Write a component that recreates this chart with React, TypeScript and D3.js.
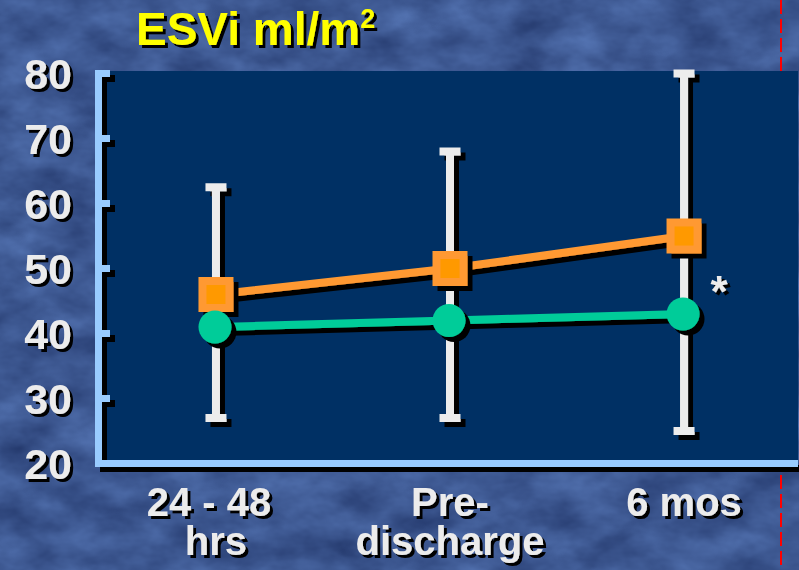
import React from "react";
import * as d3 from "d3";

// Time points and their two-line axis labels
const categories = ["24 - 48 hrs", "Pre-discharge", "6 mos"];
const categoryLines = [["24 - 48", "hrs"], ["Pre-", "discharge"], ["6 mos"]];

// ESVi (ml/m²) per group
const squareSeries = [46, 50, 55];
const circleSeries = [41, 42, 43];

// Error bar extents per time point
const errorHigh = [62.5, 68, 80];
const errorLow = [27, 27, 25];

const yTicks = [20, 30, 40, 50, 60, 70, 80];

const W = 799;
const H = 570;

const PLOT = { left: 102, right: 798, top: 71, bottom: 460 };

const AXIS_BLUE = "#99ccff";
const NAVY = "#003064";
const ORANGE = "#ff9933";
const ORANGE_IN = "#ff9900";
const GREEN = "#00cc99";
const LIGHT = "#ececec";

export default function App() {
  const x = d3
    .scalePoint<string>()
    .domain(categories)
    .range([PLOT.left, PLOT.right])
    .padding(0.487);
  const y = d3.scaleLinear().domain([20, 80]).range([463.5, 73.5]);

  const line = d3
    .line<number>()
    .x((_, i) => x(categories[i]) as number)
    .y((d) => y(d));

  const font = "'Liberation Sans', Arial, Helvetica, sans-serif";
  const capW = 21;
  const stemW = 8;
  const sq = 35;
  const sqIn = 19;
  const r = 16.5;

  return (
    <svg width={W} height={H} style={{ display: "block", position: "absolute", left: 0, top: 0 }}>
      <defs>
        <filter id="marble" x="0" y="0" width={W} height={H} filterUnits="userSpaceOnUse" colorInterpolationFilters="sRGB">
          <feTurbulence type="fractalNoise" baseFrequency="0.018 0.03" numOctaves={4} seed={7} />
          <feColorMatrix
            type="matrix"
            values="0.22 0 0 0 0.13  0.27 0 0 0 0.21  0.32 0 0 0 0.41  0 0 0 0 1"
          />
        </filter>
        <filter id="shadow5" x="0" y="0" width={W} height={H} filterUnits="userSpaceOnUse">
          <feOffset in="SourceAlpha" dx={5} dy={5} result="off" />
          <feMerge>
            <feMergeNode in="off" />
            <feMergeNode in="SourceGraphic" />
          </feMerge>
        </filter>
        <filter id="shadow3" x="0" y="0" width={W} height={H} filterUnits="userSpaceOnUse">
          <feOffset in="SourceAlpha" dx={3} dy={3} result="off" />
          <feMerge>
            <feMergeNode in="off" />
            <feMergeNode in="SourceGraphic" />
          </feMerge>
        </filter>
      </defs>

      {/* textured backdrop */}
      <rect x={0} y={0} width={W} height={H} fill="#3d5a8f" />
      <rect x={0} y={0} width={W} height={H} filter="url(#marble)" />

      {/* red dashed guide */}
      <line x1={781} x2={781} y1={0} y2={H} stroke="#ff0000" strokeWidth={2} strokeDasharray="14 5" />

      {/* plot panel */}
      <rect x={PLOT.left} y={PLOT.top} width={PLOT.right - PLOT.left} height={PLOT.bottom - PLOT.top} fill={NAVY} />

      {/* axes */}
      <g filter="url(#shadow5)" fill={AXIS_BLUE}>
        <rect x={95} y={70} width={7} height={397} />
        <rect x={95} y={460} width={PLOT.right - 95} height={7} />
        {yTicks.slice(1).map((t) => (
          <rect key={t} x={95} y={y(t) - 3.5} width={15} height={7} />
        ))}
      </g>

      {/* title */}
      <text
        x={136}
        y={45}
        fontFamily={font}
        fontWeight="bold"
        fontSize={46}
        fill="#ffff00"
        filter="url(#shadow3)"
      >
        ESVi ml/m
        <tspan fontSize={27} dy={-17}>2</tspan>
      </text>

      {/* y tick labels */}
      <g filter="url(#shadow3)">
        {yTicks.map((t) => (
          <text
            key={t}
            x={72}
            y={y(t) + 15}
            textAnchor="end"
            fontFamily={font}
            fontWeight="bold"
            fontSize={43}
            fill={LIGHT}
          >
            {t}
          </text>
        ))}
      </g>

      {/* x category labels */}
      <g filter="url(#shadow3)">
        {categories.map((c, i) =>
          categoryLines[i].map((ln, j) => (
            <text
              key={c + j}
              x={(x(c) as number) + (i === 0 && j === 0 ? -7 : 0)}
              y={516 + j * 39}
              textAnchor="middle"
              fontFamily={font}
              fontWeight="bold"
              fontSize={40}
              fill={LIGHT}
            >
              {ln}
            </text>
          ))
        )}
      </g>

      {/* error bars */}
      <g filter="url(#shadow5)" fill={LIGHT}>
        {categories.map((c, i) => {
          const cx = x(c) as number;
          const top = y(errorHigh[i]);
          const bot = y(errorLow[i]);
          return (
            <g key={c}>
              <rect x={cx - stemW / 2} y={top} width={stemW} height={bot - top} />
              <rect x={cx - capW / 2} y={top - 4} width={capW} height={8} />
              <rect x={cx - capW / 2} y={bot - 4} width={capW} height={8} />
            </g>
          );
        })}
      </g>

      {/* series lines */}
      <path d={line(circleSeries) || ""} fill="none" stroke={GREEN} strokeWidth={8} filter="url(#shadow5)" />
      <path d={line(squareSeries) || ""} fill="none" stroke={ORANGE} strokeWidth={8} filter="url(#shadow5)" />

      {/* markers */}
      {categories.map((c, i) => {
        const cx = x(c) as number;
        const cy = y(squareSeries[i]);
        return (
          <g key={c} filter="url(#shadow5)">
            <rect x={cx - sq / 2} y={cy - sq / 2} width={sq} height={sq} fill={ORANGE} />
            <rect x={cx - sqIn / 2} y={cy - sqIn / 2} width={sqIn} height={sqIn} fill={ORANGE_IN} />
          </g>
        );
      })}
      {categories.map((c, i) => (
        <circle
          key={c}
          cx={(x(c) as number) - 1}
          cy={y(circleSeries[i])}
          r={r}
          fill={GREEN}
          filter="url(#shadow5)"
        />
      ))}

      {/* significance marker */}
      <text
        x={719}
        y={307}
        textAnchor="middle"
        fontFamily={font}
        fontWeight="bold"
        fontSize={44}
        fill={LIGHT}
        filter="url(#shadow3)"
      >
        *
      </text>
    </svg>
  );
}
